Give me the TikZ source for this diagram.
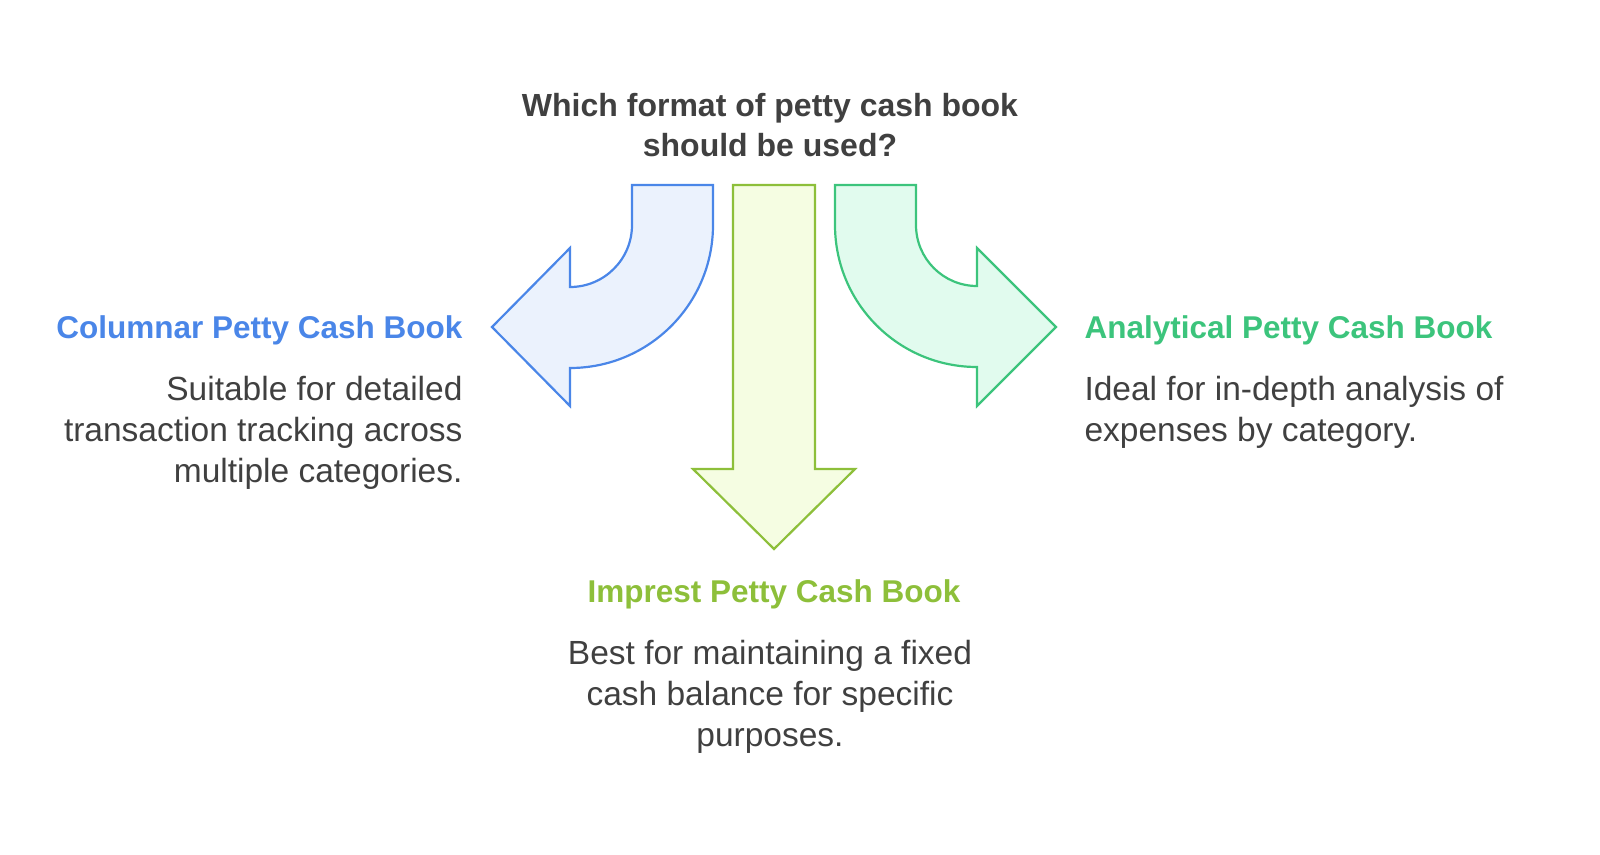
\documentclass[tikz,border=0pt]{standalone}
\usepackage{fontspec}
\setmainfont{Liberation Sans}
\definecolor{bl}{HTML}{4A86E8}\definecolor{blf}{HTML}{EBF2FD}
\definecolor{yg}{HTML}{8DBF3A}\definecolor{ygf}{HTML}{F5FDE2}
\definecolor{gr}{HTML}{3CC47C}\definecolor{grf}{HTML}{E1FBEE}
\definecolor{tx}{HTML}{404040}
\begin{document}
\begin{tikzpicture}[x=1bp,y=-1bp,
  arr/.style={line width=2.2bp,line join=miter},
  head/.style={font=\fontsize{31.5bp}{38bp}\selectfont\bfseries},
  body/.style={font=\fontsize{33.5bp}{41bp}\selectfont,text=tx}]
\useasboundingbox (0,0) rectangle (1600,854);
\draw[arr,draw=bl,fill=blf] (632,185) -- (713,185) -- (713,225) arc[start angle=0,end angle=90,radius=143]
  -- (570,406) -- (492,327) -- (570,248) -- (570,287) arc[start angle=90,end angle=0,radius=62] -- cycle;
\draw[arr,draw=gr,fill=grf] (916,185) -- (835,185) -- (835,225) arc[start angle=180,end angle=90,radius=142]
  -- (977,406) -- (1056,327) -- (977,248) -- (977,286) arc[start angle=90,end angle=180,radius=61] -- cycle;
\draw[arr,draw=yg,fill=ygf] (733,185) -- (815,185) -- (815,469) -- (855,469) -- (774,549) -- (693,469) -- (733,469) -- cycle;
\node[font=\fontsize{32bp}{40bp}\selectfont\bfseries,text=tx,align=center] (q) at (770,125) {Which format of petty cash book\\should be used?};
\node[head,text=bl,anchor=east] (c) at (466,330) {Columnar Petty Cash Book};
\node[body,anchor=north east,align=right] (ct) at (466,373) {Suitable for detailed\\transaction tracking across\\multiple categories.};
\node[head,text=gr,anchor=west] (a) at (1081,330) {Analytical Petty Cash Book};
\node[body,anchor=north west,align=left] (at) at (1081,373) {Ideal for in-depth analysis of\\expenses by category.};
\node[head,text=yg] (i) at (774,594) {Imprest Petty Cash Book};
\node[body,anchor=north,align=center] (it) at (770,637) {Best for maintaining a fixed\\cash balance for specific\\purposes.};
\end{tikzpicture}
\end{document}
